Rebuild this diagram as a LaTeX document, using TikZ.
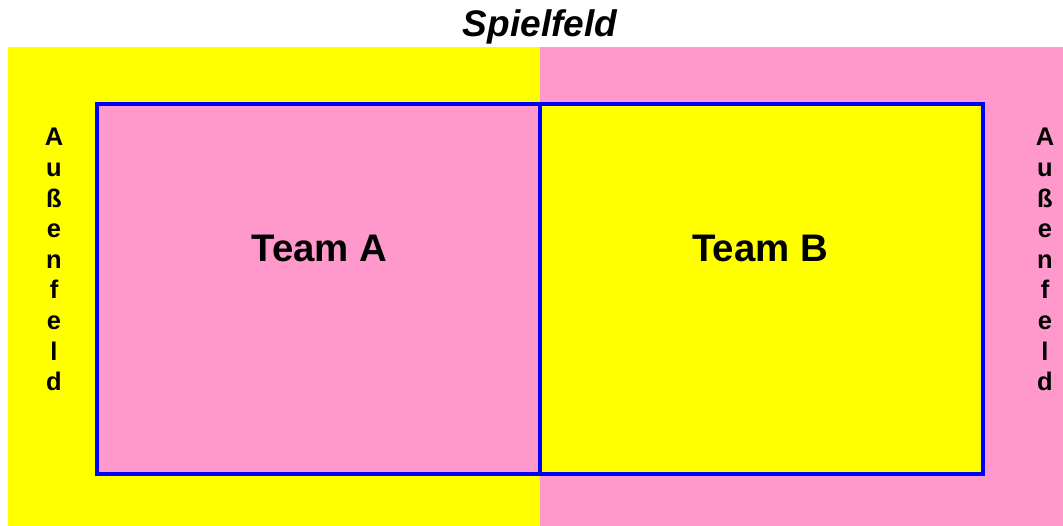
\documentclass[tikz,border=0pt]{standalone}
\usepackage{fontspec}
\setmainfont{Liberation Sans}
\definecolor{fieldyellow}{HTML}{FFFF00}
\definecolor{fieldpink}{HTML}{FF99CC}
\definecolor{fieldblue}{HTML}{0000FF}
\begin{document}
\begin{tikzpicture}[x=1pt,y=-1pt,
  zone/.style={draw=fieldblue,line width=4pt},
  teamlabel/.style={font=\fontsize{38.4}{44}\selectfont\bfseries,inner sep=0pt,anchor=base},
  sidelabel/.style={font=\fontsize{25.5}{30}\selectfont\bfseries,inner sep=0pt,anchor=base},
  titlelabel/.style={font=\fontsize{37}{40}\selectfont\bfseries\itshape,inner sep=0pt,anchor=base}]
\useasboundingbox (0,0) rectangle (1063,526);
% outer areas
\fill[fieldyellow] (8,47) rectangle (540,526);
\fill[fieldpink] (540,47) rectangle (1063,526);
% team halves
\filldraw[zone,fill=fieldpink] (97,104) rectangle (540,474);
\filldraw[zone,fill=fieldyellow] (540,104) rectangle (983,474);
% labels
\node[titlelabel] (title) at (540,36.5) {Spielfeld};
\node[teamlabel] (teamA) at (319.5,262) {Team A};
\node[teamlabel] (teamB) at (760,262) {Team B};
\foreach \ch [count=\i from 0] in {A,u,ß,e,n,f,e,l,d}{
  \node[sidelabel] (left\i) at (54,146+30.6*\i) {\ch};
  \node[sidelabel] (right\i) at (1045,146+30.6*\i) {\ch};
}
\end{tikzpicture}
\end{document}
